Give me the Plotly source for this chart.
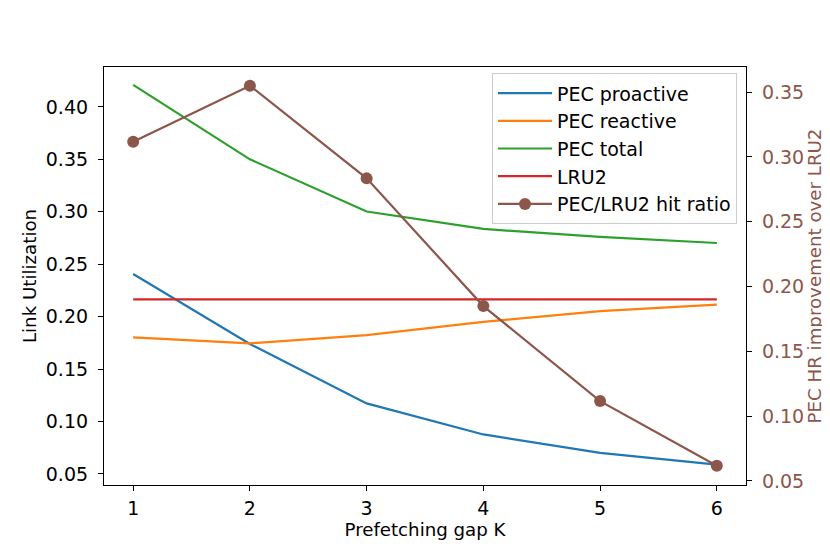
import plotly.graph_objects as go

K = [1, 2, 3, 4, 5, 6]
pec_proactive = [0.2406, 0.1739, 0.1173, 0.0877, 0.0701, 0.0590]
pec_reactive = [0.1802, 0.1745, 0.1824, 0.1951, 0.2053, 0.2114]
pec_total = [0.4210, 0.3500, 0.3002, 0.2836, 0.2760, 0.2702]
lru2 = [0.2165] * 6
hit_ratio = [0.3117, 0.3549, 0.2834, 0.1849, 0.1116, 0.0617]

LEFT_TICKS = [0.05, 0.10, 0.15, 0.20, 0.25, 0.30, 0.35, 0.40]
RIGHT_TICKS = [0.05, 0.10, 0.15, 0.20, 0.25, 0.30, 0.35]

BROWN = "#8c564b"
FONT = "DejaVu Sans"
TICK_SIZE = 19
TITLE_SIZE = 18.2

# page body has an 8px default margin, so the figure is shrunk to fit the window
PAGE_PAD = 8


def main():
    fig = go.Figure()

    series = [
        ("PEC proactive", pec_proactive, "#1f77b4"),
        ("PEC reactive", pec_reactive, "#ff7f0e"),
        ("PEC total", pec_total, "#2ca02c"),
        ("LRU2", lru2, "#d62728"),
    ]
    for i, (name, vals, col) in enumerate(series):
        fig.add_trace(go.Scatter(
            x=K, y=vals, name=name, mode="lines",
            line=dict(color=col, width=2.2),
            legendgroup=f"g{i}",
        ))

    fig.add_trace(go.Scatter(
        x=K, y=hit_ratio, name="PEC/LRU2 hit ratio", mode="lines+markers",
        line=dict(color=BROWN, width=2.2),
        marker=dict(color=BROWN, size=12),
        yaxis="y2", legendgroup="g4",
    ))

    axis_common = dict(
        showgrid=False, zeroline=False, showline=True, linecolor="black",
        linewidth=1.2, ticks="outside", ticklen=5, tickcolor="black",
        automargin=False,
    )

    fig.update_layout(
        width=830 - PAGE_PAD, height=554 - PAGE_PAD,
        margin=dict(l=104 - PAGE_PAD, r=84, t=67 - PAGE_PAD, b=69),
        plot_bgcolor="white", paper_bgcolor="white",
        font=dict(family=FONT, size=TICK_SIZE, color="black"),
        xaxis=dict(
            **axis_common, mirror=True, range=[0.75, 6.25],
            tickvals=K, ticklabelstandoff=1,
            title=dict(text="Prefetching gap K", standoff=4,
                       font=dict(size=TITLE_SIZE)),
        ),
        yaxis=dict(
            **axis_common, range=[0.0395, 0.438],
            tickvals=LEFT_TICKS, tickformat=".2f", ticklabelstandoff=6,
            title=dict(text="Link Utilization", standoff=4,
                       font=dict(size=TITLE_SIZE)),
        ),
        yaxis2=dict(
            **axis_common, overlaying="y", side="right", range=[0.0469, 0.3693],
            tickvals=RIGHT_TICKS, tickformat=".2f", ticklabelstandoff=6,
            tickfont=dict(color=BROWN),
            title=dict(text="PEC HR improvement over LRU2", standoff=5,
                       font=dict(color=BROWN, size=TITLE_SIZE)),
        ),
        legend=dict(
            x=0.986, y=0.985, xanchor="right", yanchor="top",
            bgcolor="rgba(255,255,255,0.8)", bordercolor="#cccccc", borderwidth=1,
            traceorder="grouped", tracegroupgap=0, itemwidth=54,
            font=dict(size=TICK_SIZE),
        ),
        showlegend=True,
    )

    fig.write_html("out.html")


if __name__ == "__main__":
    main()
